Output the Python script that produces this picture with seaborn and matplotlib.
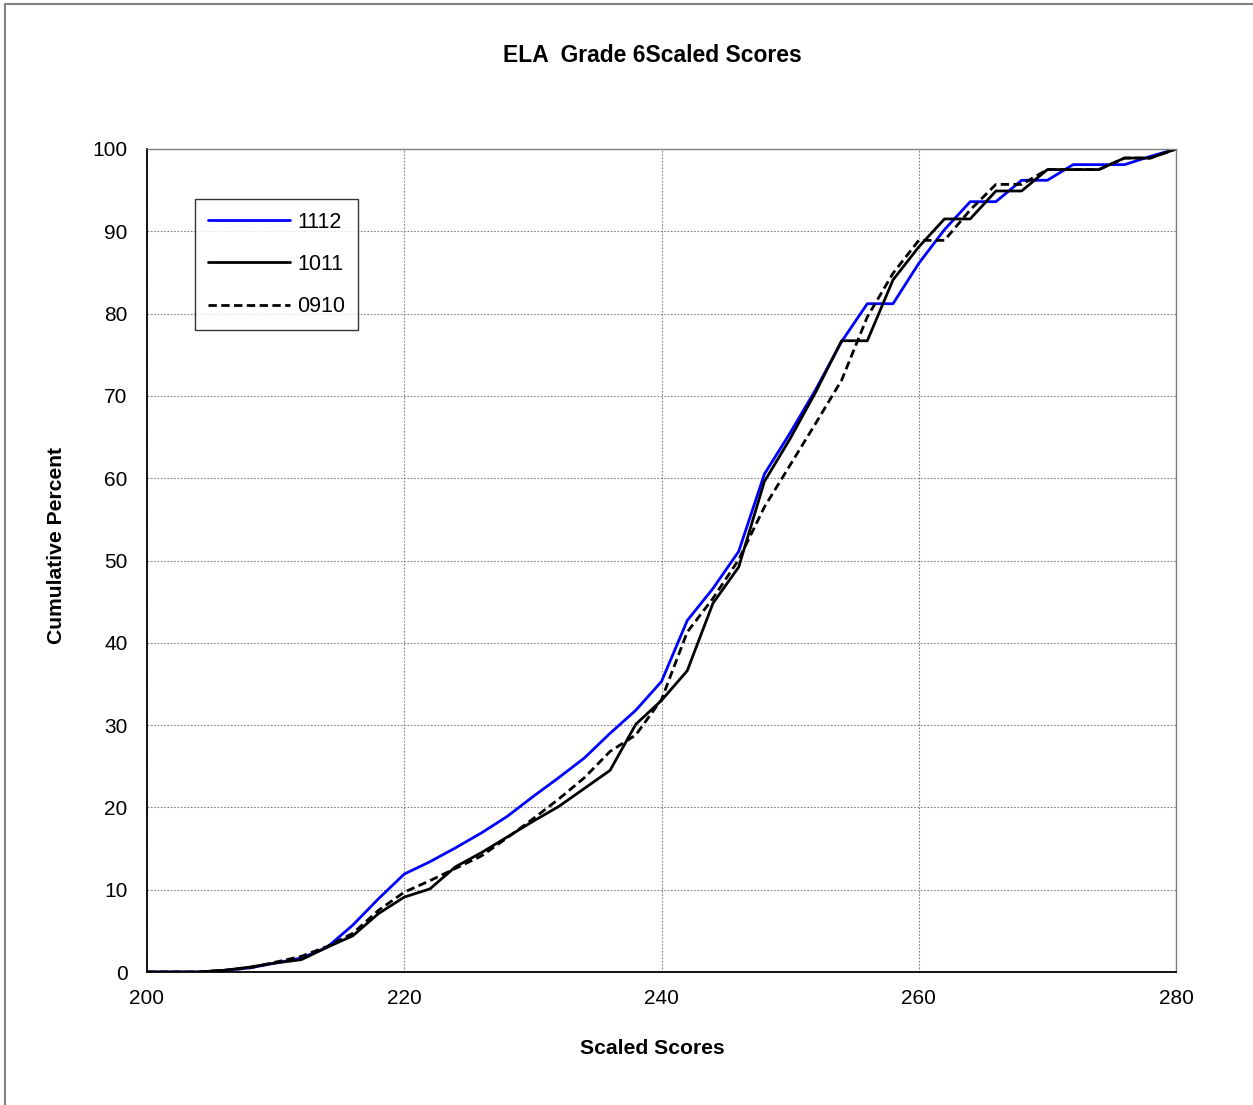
import matplotlib
matplotlib.use("Agg")
import matplotlib.pyplot as plt
import seaborn as sns
import pandas as pd
from matplotlib.lines import Line2D

scores = list(range(200, 282, 2))

cum_1112 = [0, 0, 0, 0.2, 0.5, 1.1, 1.7, 3.0, 5.7, 8.9, 11.9, 13.4, 15.1, 16.9, 18.9,
            21.3, 23.6, 26.0, 29.0, 31.8, 35.3, 42.7, 46.6, 51.1, 60.5, 65.5, 70.8,
            76.6, 81.2, 81.2, 86.1, 90.2, 93.6, 93.6, 96.2, 96.2, 98.1, 98.1, 98.1,
            99.1, 100]
cum_1011 = [0, 0, 0, 0.2, 0.6, 1.1, 1.5, 3.0, 4.4, 7.1, 9.1, 10.1, 12.8, 14.5, 16.4,
            18.3, 20.1, 22.3, 24.5, 30.1, 33.0, 36.6, 44.8, 49.2, 59.6, 64.8, 70.5,
            76.7, 76.7, 84.1, 88.1, 91.5, 91.5, 94.9, 94.9, 97.5, 97.5, 97.5, 98.9,
            98.9, 100]
cum_0910 = [0, 0, 0, 0.2, 0.5, 1.2, 1.9, 3.1, 4.7, 7.5, 9.7, 11.1, 12.6, 14.1, 16.3,
            18.6, 21.0, 23.6, 26.8, 28.8, 33.1, 41.3, 45.4, 50.1, 56.5, 61.6, 66.7,
            71.9, 79.6, 84.9, 88.9, 88.9, 92.6, 95.7, 95.7, 97.5, 97.5, 97.5, 98.9,
            98.9, 100]

series_names = ["1112", "1011", "0910"]
title = "ELA  Grade 6Scaled Scores"
x_label = "Scaled Scores"
y_label = "Cumulative Percent"
x_ticks = [200, 220, 240, 260, 280]
y_ticks = list(range(0, 101, 10))

df = pd.DataFrame({
    "score": scores * 3,
    "pct": cum_1112 + cum_1011 + cum_0910,
    "series": [series_names[0]] * len(scores) + [series_names[1]] * len(scores)
              + [series_names[2]] * len(scores),
})

sns.set_style("white")
plt.rcParams["font.family"] = ["Liberation Sans", "DejaVu Sans"]
plt.rcParams["text.color"] = "black"
plt.rcParams["axes.labelcolor"] = "black"

W, H = 1253, 1105
fig = plt.figure(figsize=(W / 100, H / 100), dpi=100)
ax = fig.add_axes([147 / W, 1 - 972 / H, (1176 - 147) / W, (972 - 149) / H])

palette = {"1112": "#0000FF", "1011": "#000000", "0910": "#000000"}
dashes = {"1112": "", "1011": "", "0910": (3, 1.6)}
sns.lineplot(data=df, x="score", y="pct", hue="series", style="series",
             palette=palette, dashes=dashes, hue_order=series_names,
             style_order=series_names, linewidth=2.0, ax=ax, legend=False)

ax.set_xlim(200, 280)
ax.set_ylim(0, 100)
ax.set_xticks(x_ticks)
ax.set_yticks(y_ticks)
ax.grid(True, color="#808080", linestyle=(0, (1.5, 1.5)), linewidth=0.8)
ax.set_axisbelow(True)

for s in ["left", "bottom"]:
    ax.spines[s].set_color("black")
    ax.spines[s].set_linewidth(1.3)
for s in ["top", "right"]:
    ax.spines[s].set_color("#808080")
    ax.spines[s].set_linewidth(1.0)
    ax.spines[s].set_visible(True)

ax.tick_params(axis="both", which="major", direction="inout", length=8,
               width=1, color="#808080", labelcolor="black", labelsize=15)
ax.tick_params(axis="y", pad=10)
ax.tick_params(axis="x", pad=8)

ax.set_xlabel("")
ax.set_ylabel("")
fig.text(652 / W, 1 - 1048 / H, x_label, ha="center", va="center",
         fontsize=15.2, fontweight="bold")
fig.text(57 / W, 1 - 546 / H, y_label, ha="center", va="center",
         rotation=90, fontsize=15.2, fontweight="bold")
fig.text(652 / W, 1 - 55 / H, title, ha="center", va="center",
         fontsize=16.5, fontweight="bold")

handles = [
    Line2D([], [], color="#0000FF", linewidth=2.0),
    Line2D([], [], color="black", linewidth=2.0),
    Line2D([], [], color="black", linewidth=2.0, linestyle=(0, (3, 1.6))),
]
leg = ax.legend(handles, series_names, loc="upper left",
                bbox_to_anchor=((195 - 147) / 1029, (972 - 199) / 823),
                frameon=True, fancybox=False, shadow=False, fontsize=15.5,
                handlelength=3.8, handletextpad=0.35, labelspacing=0.98,
                borderpad=0.6, borderaxespad=0.0)
leg.get_frame().set_edgecolor("black")
leg.get_frame().set_linewidth(1.0)

# outer chart border (top and left edges visible)
fig.add_artist(Line2D([5 / W, 1.0], [1 - 4 / H, 1 - 4 / H],
                      transform=fig.transFigure, color="#808080", linewidth=1.5))
fig.add_artist(Line2D([5 / W, 5 / W], [0.0, 1 - 4 / H],
                      transform=fig.transFigure, color="#808080", linewidth=1.5))

fig.savefig("out.png", dpi=100)
